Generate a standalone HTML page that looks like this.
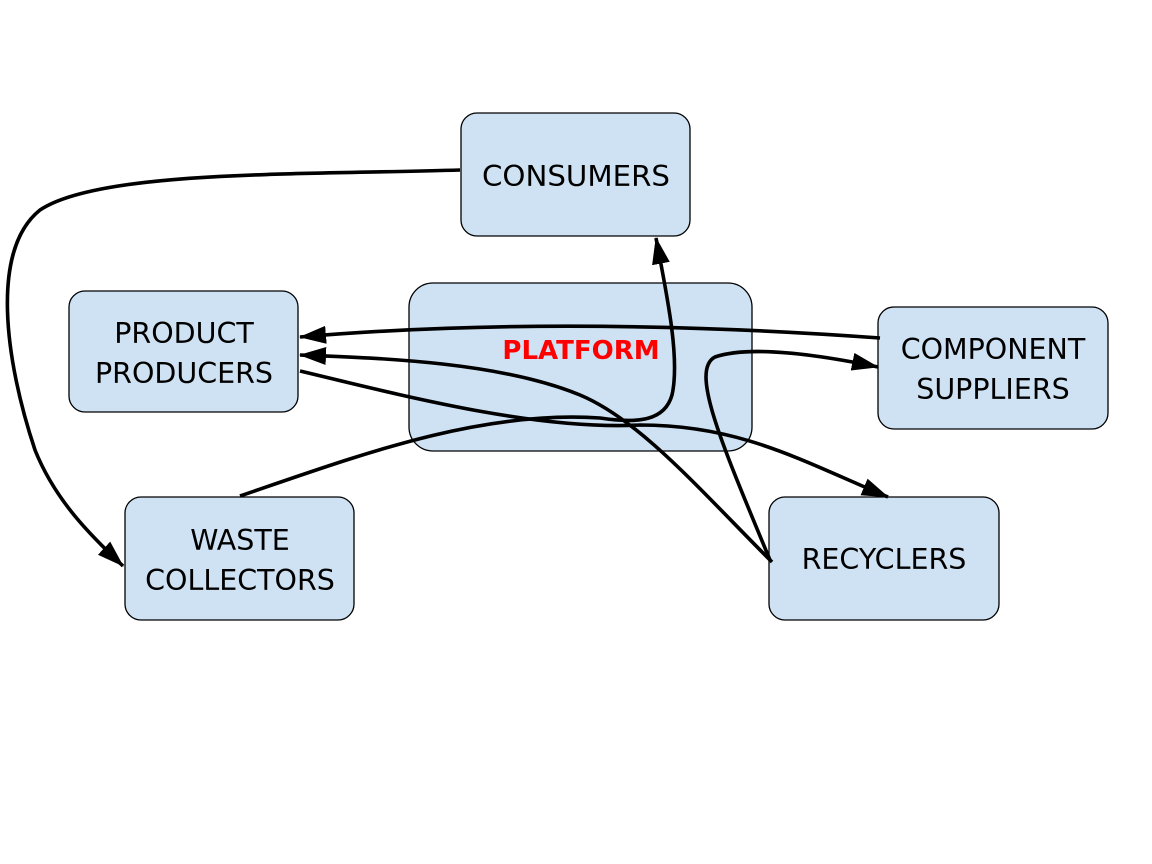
<!DOCTYPE html>
<html><head><style>
html,body{margin:0;padding:0;background:#fff;}
svg{display:block;}
text{font-family:"DejaVu Sans","Liberation Sans",sans-serif;}
</style></head><body>
<svg width="1152" height="864" viewBox="0 0 1152 864" xmlns="http://www.w3.org/2000/svg">
<defs>
<marker id="a" markerUnits="userSpaceOnUse" markerWidth="28" markerHeight="20" refX="26" refY="9" orient="auto">
<path d="M0,0 L27,9 L0,18 Z" fill="#000"/>
</marker>
</defs>
<g fill="#cfe2f3" stroke="#000" stroke-width="1.3">
<rect x="461" y="113" width="229" height="123" rx="16"/>
<rect x="69" y="291" width="229" height="121" rx="16"/>
<rect x="409" y="283" width="343" height="168" rx="24"/>
<rect x="878" y="307" width="230" height="122" rx="16"/>
<rect x="125" y="497" width="229" height="123" rx="16"/>
<rect x="769" y="497" width="230" height="123" rx="16"/>
</g>
<g font-size="28.5" fill="#000" text-anchor="middle">
<text x="576" y="186" textLength="188" lengthAdjust="spacingAndGlyphs">CONSUMERS</text>
<text x="184" y="343">PRODUCT</text>
<text x="184" y="383">PRODUCERS</text>
<text x="993" y="359">COMPONENT</text>
<text x="993" y="399">SUPPLIERS</text>
<text x="240" y="550">WASTE</text>
<text x="240" y="590">COLLECTORS</text>
<text x="884" y="569">RECYCLERS</text>
<text x="581" y="359" fill="#ff0000" font-weight="bold" font-size="26">PLATFORM</text>
</g>
<g fill="none" stroke="#000" stroke-width="3.6">
<path d="M240,496 C360,455 480,410 600,418 C640,424 665,420 672,395 C680,360 668,300 656,238" marker-end="url(#a)"/>
<path d="M880,338 C700,325 500,320 300,337" marker-end="url(#a)"/>
<path d="M772,562 C700,490 640,420 580,395 C500,362 380,358 300,355" marker-end="url(#a)"/>
<path d="M770,560 C720,440 690,370 715,357 C750,345 820,355 878,367" marker-end="url(#a)"/>
<path d="M300,371 C420,400 540,430 640,425 C740,425 800,460 888,497" marker-end="url(#a)"/>
<path d="M460,170 C300,175 100,170 40,210 C-10,250 5,360 35,450 C55,500 90,535 123,566" marker-end="url(#a)"/>
</g>
</svg>
</body></html>
